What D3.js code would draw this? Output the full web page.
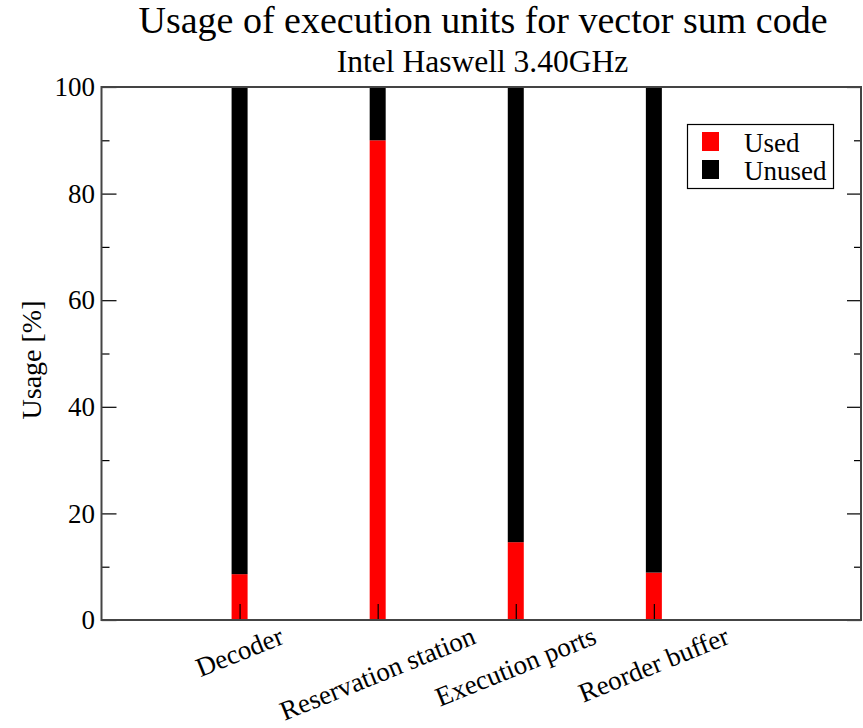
<!DOCTYPE html>
<html>
<head>
<meta charset="utf-8">
<script src="https://cdn.jsdelivr.net/npm/d3@7"></script>
</head>
<body style="margin:0">
<svg id="chart" width="863" height="728" font-family="Liberation Serif"></svg>
<script>
const categories = ["Decoder", "Reservation station", "Execution ports", "Reorder buffer"];
const usedValues = [8.6, 90.0, 14.6, 8.9];
const seriesNames = ["Used", "Unused"];
const seriesColors = ["#ff0000", "#000000"];
const yMajorTicks = [0, 20, 40, 60, 80, 100];
const yMinorTicks = [10, 30, 50, 70, 90];
const titleText = "Usage of execution units for vector sum code";
const subtitleText = "Intel Haswell 3.40GHz";
const yLabelText = "Usage [%]";

const plot = { left: 101.5, right: 861, top: 87, bottom: 620 };
const svg = d3.select("#chart");

const x = d3.scaleLinear().domain([0, categories.length + 1.5]).range([plot.left, plot.right]);
const y = d3.scaleLinear().domain([0, 100]).range([plot.bottom, plot.top]);

const rows = categories.map((c, i) => ({ cat: c, used: usedValues[i], unused: 100 - usedValues[i], pos: i + 1 }));
const stacked = d3.stack().keys(["used", "unused"])(rows);

const barW = 16;
const barsG = svg.append("g");
stacked.forEach((layer, li) => {
  barsG.selectAll(null).data(layer).enter().append("rect")
    .attr("x", d => x(d.data.pos) - barW / 2)
    .attr("width", barW)
    .attr("y", d => y(d[1]))
    .attr("height", d => y(d[0]) - y(d[1]))
    .attr("fill", seriesColors[li]);
});

const axG = svg.append("g");
const leftMajor = d3.axisRight(y).tickValues(yMajorTicks).tickSize(15).tickFormat("");
const leftMinor = d3.axisRight(y).tickValues(yMinorTicks).tickSize(8).tickFormat("");
const rightMajor = d3.axisLeft(y).tickValues(yMajorTicks).tickSize(14).tickFormat("");
const rightMinor = d3.axisLeft(y).tickValues(yMinorTicks).tickSize(7).tickFormat("");
const bottomAx = d3.axisTop(x).tickValues(rows.map(r => r.pos)).tickSize(16).tickFormat("");
const topAx = d3.axisBottom(x).tickValues(rows.map(r => r.pos)).tickSize(16).tickFormat("");

function styleAxis(g) {
  g.select(".domain").remove();
  g.selectAll(".tick line").attr("stroke", "#000").attr("stroke-width", 1.2);
}
axG.append("g").attr("transform", `translate(${plot.left},0)`).call(leftMajor).call(styleAxis);
axG.append("g").attr("transform", `translate(${plot.left},0)`).call(leftMinor).call(styleAxis);
axG.append("g").attr("transform", `translate(${plot.right},0)`).call(rightMajor).call(styleAxis);
axG.append("g").attr("transform", `translate(${plot.right},0)`).call(rightMinor).call(styleAxis);
axG.append("g").attr("transform", `translate(0,${plot.bottom})`).call(bottomAx).call(styleAxis);
axG.append("g").attr("transform", `translate(0,${plot.top})`).call(topAx).call(styleAxis);

svg.append("rect")
  .attr("x", plot.left).attr("y", plot.top)
  .attr("width", plot.right - plot.left).attr("height", plot.bottom - plot.top)
  .attr("fill", "none").attr("stroke", "#444").attr("stroke-width", 2);

const textG = svg.append("g");

textG.append("g").selectAll("text").data(yMajorTicks).enter().append("text")
  .attr("font-family", "Liberation Serif")
  .attr("x", 95).attr("y", d => y(d)).attr("dy", "0.34em")
  .attr("text-anchor", "end").attr("font-size", 27)
  .text(d => d);

const ang = 22, rad = ang * Math.PI / 180, fsX = 27, hTxt = 0.88 * fsX, topY = 624;
rows.forEach(r => {
  const t = textG.append("text").attr("font-family", "Liberation Serif")
    .attr("font-size", fsX).attr("text-anchor", "middle").text(r.cat);
  const L = t.node().getComputedTextLength();
  const cy = topY + (L * Math.sin(rad) + hTxt * Math.cos(rad)) / 2;
  const cx = x(r.pos);
  t.attr("x", 0).attr("y", 0).attr("dy", "0.32em")
   .attr("transform", `translate(${cx},${cy}) rotate(${-ang})`);
});

textG.append("text").attr("font-family", "Liberation Serif")
  .attr("transform", `translate(41,360) rotate(-90)`)
  .attr("text-anchor", "middle").attr("font-size", 28)
  .text(yLabelText);

textG.append("text").attr("font-family", "Liberation Serif").attr("x", 483).attr("y", 33).attr("text-anchor", "middle")
  .attr("font-size", 38).text(titleText);
textG.append("text").attr("font-family", "Liberation Serif").attr("x", 482.5).attr("y", 72).attr("text-anchor", "middle")
  .attr("font-size", 31.5).text(subtitleText);

const lg = svg.append("g");
lg.append("rect").attr("x", 687.5).attr("y", 124.5).attr("width", 146).attr("height", 64)
  .attr("fill", "#fff").attr("stroke", "#000").attr("stroke-width", 1.2);
seriesNames.forEach((name, i) => {
  lg.append("rect").attr("x", 702).attr("y", 132 + i * 28).attr("width", 17).attr("height", 19)
    .attr("fill", seriesColors[i]);
  lg.append("text").attr("font-family", "Liberation Serif").attr("x", 744).attr("y", 152 + i * 27.5)
    .attr("font-size", 27).text(name);
});
</script>
</body>
</html>
